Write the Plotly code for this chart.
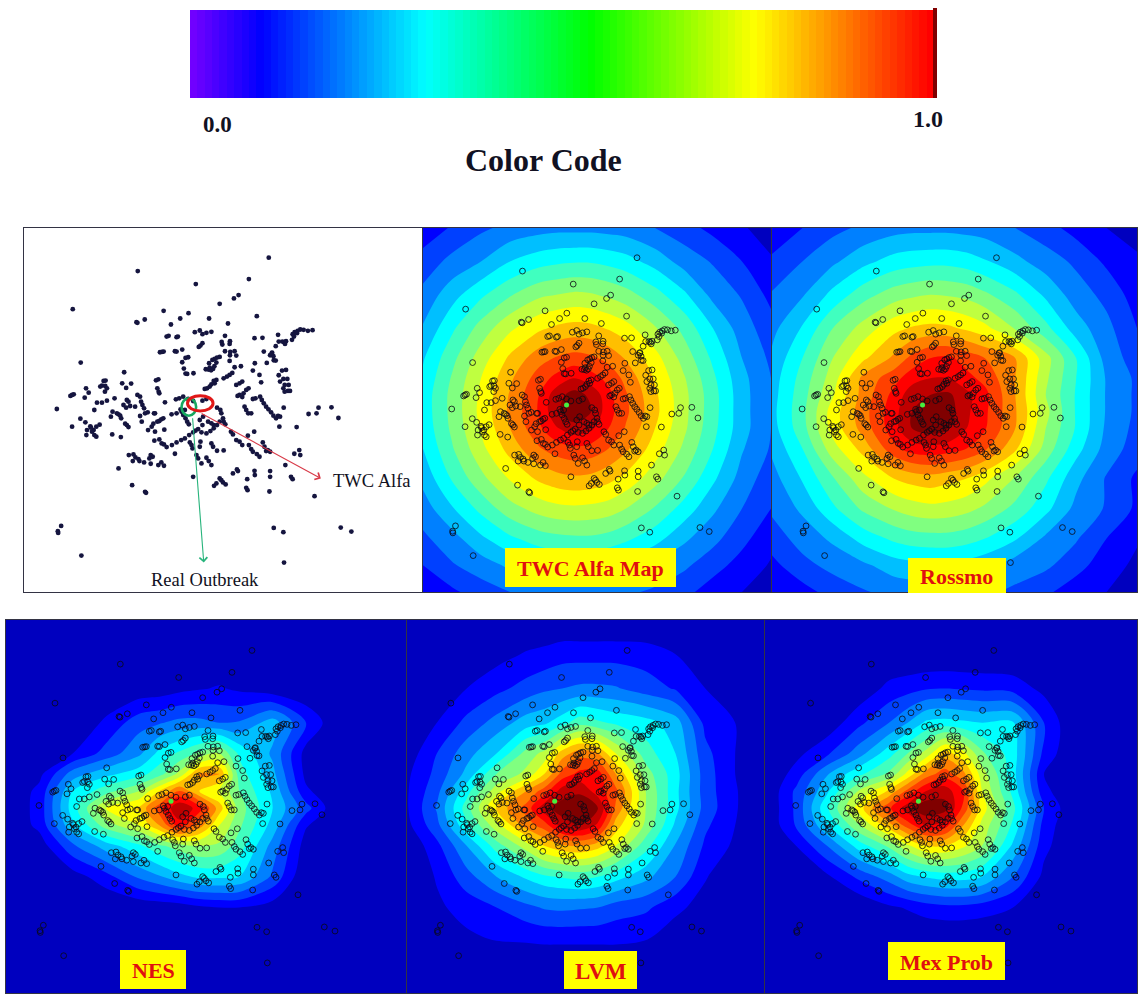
import plotly.graph_objects as go

W, H = 1140, 1000

crime_points = [
(748,99),(353,139),(688,163),(528,178),(657,211),(643,221),(600,237),(157,253),(431,258),(506,265),(481,281),(568,281),(712,274),(349,292),(352,294),(374,284),(453,299),(625,296),
(525,322),(540,317),(575,321),(560,324),(548,328),(440,335),(446,333),(470,337),(474,335),
(616,333),(705,340),(729,339),(776,330),(880,316),(866,318),(853,315),(843,314),(835,318),(826,322),(820,328),(833,325),(824,335),(818,345),(800,349),(794,352),(789,350),(797,357),(778,350),(769,364),
(606,351),(631,349),(608,359),(630,357),(548,355),(542,362),(537,366),(420,382),(426,381),(431,380),(465,379),(470,380),(487,374),(616,379),(645,379),(632,381),(631,391),(650,392),(733,380),(758,383),(752,391),(762,394),(757,385),(763,406),(769,407),
(505,397),(497,399),(487,412),(492,431),(497,446),(502,447),(521,445),
(600,396),(592,398),(585,402),(578,405),(568,415),(558,433),(566,434),(574,436),(570,428),(580,432),(584,424),(590,413),(630,408),(645,427),(664,424),(706,415),(742,414),(700,437),(720,450),(788,437),(800,435),(778,451),(792,462),(804,462),(782,470),(796,480),(808,480),(792,490),(806,498),(796,500),(812,498),(793,548),
(312,442),(181,413),(638,444),(630,450),(622,455),(612,460),(590,465),(582,468),(585,475),(575,478),(570,485),(562,490),(555,492),(415,463),(408,466),(412,490),(416,500),(418,505),(250,468),(256,467),(245,482),(240,485),(255,483),(260,490),(254,500),(197,490),(205,503),(193,518),(160,508),(150,513),(155,510),(306,475),(333,476),(318,489),
(668,470),(660,475),(650,480),(687,490),(680,495),(672,505),(660,510),(654,513),(668,516),(725,472),(708,520),(700,522),(722,515),(727,525),(733,535),(740,545),(747,553),(755,562),(762,572),(770,580),(776,573),(782,575),(780,605),(675,545),(680,555),(686,565),(695,565),
(352,510),(360,515),(363,530),(367,540),(372,550),(383,562),(375,565),(402,565),(320,525),(325,530),(310,540),(318,548),(330,543),(345,545),(283,520),(260,527),(245,533),(230,533),(222,555),(295,568),(300,572),(272,575),(277,560),(303,580),(290,565),
(435,532),(468,523),(478,520),(490,515),(505,522),(548,527),(560,522),(520,528),(470,565),(455,568),(482,553),(485,560),(490,570),(497,580),(502,590),(507,598),(495,555),(109,552),(180,581),(195,592),(210,604),(238,599),(228,605),(220,615),(212,608),(198,630),(215,620),(222,630),(228,635),(200,615),(155,605),(276,628),(302,636),
(360,573),(365,590),(320,600),(315,596),(325,606),(405,565),(430,580),(424,583),(418,588),(412,590),(400,596),(395,605),(384,615),(405,620),(433,614),(403,647),(418,643),(425,655),(432,658),(440,666),(456,660),(470,652),(484,645),(495,640),(508,630),(520,622),(527,617),
(592,548),(602,555),(605,565),(610,580),(600,590),(592,600),(582,600),(575,595),(540,585),(550,575),(565,590),(548,600),(535,612),(545,622),(560,625),(572,618),(582,610),(612,590),(617,598),(634,620),(640,628),(650,645),(660,650),(668,660),(685,632),(704,620),(832,606),
(510,652),(515,660),(518,670),(542,650),(540,665),(575,655),(580,665),(592,677),(612,676),(530,690),(535,700),(560,698),(567,708),(575,720),(545,715),(465,686),(520,755),
(688,660),(730,652),(735,665),(745,675),(752,680),(740,678),(695,672),(700,680),(720,695),(712,687),(840,675),(825,686),(843,690),
(326,690),(340,688),(346,697),(355,702),(338,708),(358,708),(372,712),(392,690),(398,695),(388,700),(392,716),(424,712),(415,720),(432,722),(295,730),(336,780),(375,800),(378,803),
(798,720),(652,733),(640,745),(705,737),(706,750),(752,738),(752,755),(815,755),(820,762),(683,762),(655,738),(600,760),(610,772),(618,778),(590,775),(583,782),(605,765),(680,788),(684,795),(750,799),(886,813),
(868,567),(898,548),(892,565),(937,547),(958,579),
(122,902),(112,918),(113,923),(183,991),(763,908),(792,921),(965,907),(997,919),(794,1012),
]
crime_x = [p[0] for p in crime_points]
crime_y = [p[1] for p in crime_points]
outbreak_x = [505]
outbreak_y = [540]

grid_x = [10,110,210,310,410,470,530,590,650,710,810,910,1010,1110,1210]
grid_y = [10,110,210,310,400,460,510,560,610,670,760,850,940,1020,1100]

z_twc = [
[1.4,2.1,2.8,3.3,3.6,3.7,3.7,3.7,3.6,3.5,3.0,2.4,1.7,1.1,0.6],
[2.4,3.3,4.0,5.0,5.6,5.8,5.9,5.9,5.7,5.4,4.6,3.6,2.9,2.0,1.1],
[3.3,4.6,5.8,6.9,7.8,8.0,8.2,8.1,7.8,7.4,6.4,5.2,3.7,2.9,1.7],
[4.1,5.8,7.4,8.8,9.8,10.2,10.4,10.3,9.9,9.4,8.1,6.7,5.0,3.5,2.4],
[4.9,6.7,8.5,10.2,11.6,12.1,12.4,12.2,11.7,10.9,9.4,7.6,5.8,4.0,2.8],
[5.2,7.1,9,10.8,12.5,13.3,14,13.4,12.7,11.7,9.9,8.1,6.2,4.3,3.0],
[5.4,7.3,9.2,11.1,13,14.6,15.4,14.8,13.3,12.1,10.2,8.3,6.4,4.4,3.0],
[5.4,7.3,9.3,11.2,13.1,14.8,15.7,15,13.4,12.2,10.3,8.3,6.4,4.4,3.0],
[5.3,7.2,9.1,11,12.8,13.9,14.6,14.2,13,11.9,10,8.2,6.3,4.4,3.0],
[5,6.9,8.7,10.4,11.9,12.5,12.8,12.6,12,11.2,9.5,7.8,6,4.1,2.9],
[4.3,6.1,7.7,9.1,10.2,10.6,10.8,10.7,10.3,9.7,8.4,6.9,5.2,3.6,2.4],
[3.5,4.9,6.3,7.6,8.4,8.7,8.8,8.7,8.5,8,6.9,5.6,4.2,3.0,2.0],
[2.8,3.6,4.8,5.8,6.5,6.7,6.8,6.8,6.6,6.2,5.4,4.2,3.3,2.3,1.3],
[2.0,2.9,3.5,4.2,4.8,5,5,5,4.8,4.5,3.8,3.2,2.4,1.6,0.9],
[1.2,1.8,2.5,3.0,3.4,3.5,3.5,3.5,3.4,3.2,2.8,2.3,1.5,1.0,0.5],
]

z_rossmo = [
[1.3,2,2.7,3.2,3.6,3.7,3.7,3.7,3.6,3.5,3,2.4,1.6,1,0.5],
[2.2,3,3.8,4.7,5.4,5.6,5.7,5.7,5.5,5.1,4.3,3.5,2.8,1.8,1.2],
[3.1,3.9,5.3,6.6,7.5,7.8,8,7.9,7.7,7.2,6.2,4.8,3.5,2.7,1.5],
[3.7,5.1,7,8.4,9.7,10.1,10.3,10.2,9.8,9.3,7.9,6.3,4.5,3.3,2],
[4.2,6,8,9.8,11.2,12.3,13,13.2,12.6,12,11,8.4,6,3.6,2.5],
[4.5,6.4,8.5,11.3,12.6,13.6,14,14,13.3,12.7,11,8.2,6,3.9,2.8],
[4.6,6.6,8.9,11.4,13.3,14.6,15,15.2,14.3,13.3,11,8,5.9,3.9,2.8],
[4.7,6.7,9.5,11.6,13.6,15,15.6,15.5,14.2,13.2,11.1,8.3,5.9,3.9,2.8],
[4.6,6.6,9.4,11.4,13.6,15,15.5,15.1,14,13.1,11,8,5.9,3.8,2.7],
[4.2,6,8.6,10.4,12.7,13.5,13.7,13.5,13,12.2,10.2,7.6,5.4,3.6,2.5],
[3.6,5.1,6.9,8.7,10,10.4,10.6,10.3,10,9.3,7.9,6.2,4.3,2.9,1.8],
[3.2,4.2,5.8,7.2,8.1,8.5,8.7,8.6,8.3,7.8,6.7,5.3,3.7,2.9,1.8],
[2.5,3.4,4.2,5.4,6.2,6.5,6.6,6.6,6.4,6,5.1,3.8,3.1,2,1.1],
[1.7,2.7,3.3,3.8,4.5,4.7,4.8,4.8,4.6,4.3,3.5,3.2,2.4,1.4,0.8],
[1.1,1.6,2.4,2.9,3.3,3.4,3.5,3.4,3.4,3.2,2.8,2.2,1.4,1,0.5],
]

z_nes = [
[0]*15,
[0]*15,
[0,0,0,0.1,0.3,0.4,0.7,0.9,1.1,0.8,0.3,0,0,0,0],
[0,0,0.1,1.2,2.6,2.9,3.3,3.3,3,3.1,4.5,2,0,0,0],
[0,0,1,2.4,3.8,5.3,6.2,7.2,8,5.8,3.8,0.6,0,0,0],
[0,0.7,3.5,4.7,5.6,6.6,8.3,11.2,11,6.5,4.3,0.7,0,0,0],
[0,1.3,5,6.6,8,10,12,10,9,7,4.8,1.2,0,0,0],
[0,1.4,5.5,9,10.2,12.6,15,13.5,10.5,7.5,5,2.4,0,0,0],
[0,1.3,4.8,7.5,9,11,13.5,11.5,9,7.2,4.6,1.1,0,0,0],
[0,0.4,2.8,4.5,5.8,6.8,7.5,8,7.8,6.5,3.6,0.5,0,0,0],
[0,0,0.5,1.6,3.2,3.9,4.7,5.2,5.2,5,2.8,0,0,0,0],
[0,0,0,0,0.2,0.3,0.4,0.8,1.0,1.0,0.5,0,0,0,0],
[0]*15,
[0]*15,
[0]*15,
]

z_lvm = [
[0]*15,
[0,0,0,0.6,1.1,1.3,1.6,1.6,1.6,1.6,1.5,1,0.2,0,0],
[0,0.2,1,1.7,2.4,2.8,3,3.2,3.2,3.1,2.5,1.9,1,0,0],
[0,1,2.3,3.4,4.5,4.8,5.6,6.6,6.2,5.8,5.4,4.5,1.7,1,0],
[0.4,2,3.6,5,7.4,8.3,10.5,11.6,11,9,6.5,5,2.3,1,0],
[0.8,2.3,4.3,7,8.3,10,12.4,13.3,13.5,11,7.5,5.4,2.5,1,0],
[0.9,2.7,5.6,8.6,11,12.5,14.5,14.8,13.5,12.3,8,5.3,2.5,1.1,0],
[0.9,3.1,6.5,10.2,12.4,14.6,15.5,15.8,15,11.8,8,5.3,2.6,1.1,0],
[0.7,2.7,5.8,8.6,11.5,12.5,14.5,15,13.8,10.5,7.8,4.8,2.2,1,0],
[0.1,1.7,4,6.5,8.5,10,10.8,11,10.4,9,6.4,3.9,1.8,0.8,0],
[0,1.1,2.6,4,5.2,5.8,6.1,6.3,6,5.4,4.3,3,1.1,0,0],
[0,0.8,1.4,2,2.7,3.1,3.2,3.1,3,2.5,2.2,1.3,0.5,0,0],
[0,0,0.8,1.1,1.2,1.3,1.3,1.3,1.3,1.3,1.1,0.3,0,0,0],
[0]*15,
[0]*15,
]

z_mex = [
[0]*15,
[0]*15,
[0,0,0,0.2,1.3,1.6,1.9,2,1.9,1.8,1.6,0.7,0,0,0],
[0,0,0.3,1.7,3,4,5.2,5.4,5.2,5,5.1,2,0,0,0],
[0,0.7,1.8,3.5,5.6,7,8.4,10.5,9.3,7.2,5.5,1.7,0,0,0],
[0,1.4,3.9,5.7,7.2,9.3,11.5,12.5,11.3,8.5,5.4,1,0,0,0],
[0,2.2,4.8,8,10.2,12.3,14,14.6,13,9,5.7,1.3,0,0,0],
[0,2.2,5.8,9.4,12.8,14.6,15.8,15.4,12.7,9.5,6.3,2,0.1,0,0],
[0,2.1,4.9,7.8,10.6,12.5,14,13.5,11,8.7,5.8,1.6,0,0,0],
[0,1,3,5.4,7.2,8.8,10,10,9.2,8,4.8,1.3,0,0,0],
[0,0,0.8,2.2,3.5,4.6,5.1,5.4,5.4,5,3,0.7,0,0,0],
[0,0,0,0,0.8,1.1,1.5,1.7,1.7,1.5,1,0,0,0,0],
[0]*15,
[0]*15,
[0]*15,
]

jet_bands = ["#0000BF","#0000FF","#0040FF","#0080FF","#00BFFF","#00FFFF","#40FFBF","#80FF80",
             "#BFFF40","#FFFF00","#FFBF00","#FF8000","#FF4000","#FF0000","#BF0000","#800000"]

strip_levels = [0.00,0.01,0.02,0.03,0.04,0.05,0.06,0.07,0.08,0.09,0.10,0.11,0.12,0.13,0.14,0.15,0.16,0.17,0.18,0.19,
                0.20,0.21,0.22,0.23,0.24,0.25,0.26,0.27,0.28,0.29,0.30,0.31,0.32,0.33,0.34,0.35,0.36,0.37,0.38,0.39,
                0.40,0.41,0.42,0.43,0.44,0.45,0.46,0.47,0.48,0.49,0.50,0.51,0.52,0.53,0.54,0.55,0.56,0.57,0.58,0.59,
                0.60,0.61,0.62,0.63,0.64,0.65,0.66,0.67,0.68,0.69,0.70,0.71,0.72,0.73,0.74,0.75,0.76,0.77,0.78,0.79,
                0.80,0.81,0.82,0.83,0.84,0.85,0.86,0.87,0.88,0.89,0.90,0.91,0.92,0.93,0.94,0.95,0.96,0.97,0.98,0.99,1.00]
strip_scale = [[0,"#7000ff"],[0.092,"#0000ff"],[0.315,"#00ffff"],[0.539,"#00ff00"],[0.762,"#ffff00"],[1,"#ff0000"]]

panel_boxes = {
    2: (24, 422, 228, 592),
    3: (423, 771, 228, 592),
    4: (772, 1137, 228, 592),
    5: (6, 406, 620, 993),
    6: (407, 765, 620, 993),
    7: (765, 1137, 620, 993),
}
heat_panels = {3: z_twc, 4: z_rossmo, 5: z_nes, 6: z_lvm, 7: z_mex}

labels = [
    ("TWC Alfa Map", 505, 676, 548, 587, 22),
    ("Rossmo", 908, 1006, 558, 593, 22),
    ("NES", 120, 186, 950, 989, 22),
    ("LVM", 564, 637, 951, 989, 23),
    ("Mex Prob", 888, 1005, 942, 980, 22),
]

SERIF = "Liberation Serif"
def fx(px): return px / W
def fy(py): return 1 - py / H

fig = go.Figure()
layout = dict(width=W, height=H, margin=dict(l=0, r=0, t=0, b=0), autosize=False,
              paper_bgcolor="white", plot_bgcolor="white", showlegend=False)

# colour strip on axes 1
layout["xaxis"] = dict(domain=[fx(190), fx(934)], range=[-0.5, len(strip_levels) - 0.5], visible=False)
layout["yaxis"] = dict(domain=[fy(98), fy(10)], range=[-0.5, 0.5], visible=False)
fig.add_trace(go.Heatmap(z=[strip_levels], colorscale=strip_scale, zmin=0, zmax=1,
                         showscale=False, hoverinfo="skip", xaxis="x", yaxis="y"))

shapes, annots = [], []
shapes.append(dict(type="rect", xref="paper", yref="paper", x0=fx(933), x1=fx(937), y0=fy(98), y1=fy(8),
                   fillcolor="#800000", line_width=0))

colorscale = []
for i, c in enumerate(jet_bands):
    colorscale += [[i / 16, c], [(i + 1) / 16, c]]

for n, (x0, x1, y0, y1) in panel_boxes.items():
    layout[f"xaxis{n}"] = dict(domain=[fx(x0), fx(x1)], range=[10, 1210], anchor=f"y{n}",
                               showgrid=False, zeroline=False, showticklabels=False, ticks="",
                               showline=True, mirror=True, linecolor="#333344", linewidth=1)
    layout[f"yaxis{n}"] = dict(domain=[fy(y1), fy(y0)], range=[1100, 10], anchor=f"x{n}",
                               showgrid=False, zeroline=False, showticklabels=False, ticks="",
                               showline=True, mirror=True, linecolor="#333344", linewidth=1)
    xa, ya = f"x{n}", f"y{n}"
    if n in heat_panels:
        fig.add_trace(go.Contour(x=grid_x, y=grid_y, z=heat_panels[n], xaxis=xa, yaxis=ya,
                                 autocontour=False, contours=dict(start=1, end=15, size=1, coloring="fill", showlines=False),
                                 line=dict(width=0, smoothing=0.9), colorscale=colorscale, zauto=False, zmin=0, zmax=16,
                                 showscale=False, hoverinfo="skip"))
        fig.add_trace(go.Scatter(x=crime_x, y=crime_y, mode="markers", xaxis=xa, yaxis=ya,
                                 marker=dict(symbol="circle-open", size=5.8, color="rgba(10,10,20,0.8)",
                                             line=dict(width=1, color="rgba(10,10,20,0.8)")), hoverinfo="skip"))
        fig.add_trace(go.Scatter(x=outbreak_x, y=outbreak_y, mode="markers", xaxis=xa, yaxis=ya,
                                 marker=dict(size=5, color="#44f040"), hoverinfo="skip"))
    else:
        fig.add_trace(go.Scatter(x=crime_x, y=crime_y, mode="markers", xaxis=xa, yaxis=ya,
                                 marker=dict(size=4.8, color="#15153f"), hoverinfo="skip"))

# rings and arrows of the first panel
shapes.append(dict(type="circle", xref="x2", yref="y2", x0=485, x1=529, y0=520, y1=572,
                   line=dict(color="#18a860", width=2.6)))
shapes.append(dict(type="circle", xref="x2", yref="y2", x0=503, x1=580, y0=512, y1=558,
                   line=dict(color="#e01818", width=3)))
annots.append(dict(x=905, y=760, ax=541, ay=563, xref="x2", yref="y2", axref="x2", ayref="y2", text="",
                   showarrow=True, arrowhead=4, arrowsize=1.4, arrowwidth=1.1, arrowcolor="#d83a48"))
annots.append(dict(x=552, y=1012, ax=518, ay=575, xref="x2", yref="y2", axref="x2", ayref="y2", text="",
                   showarrow=True, arrowhead=4, arrowsize=1.4, arrowwidth=1.1, arrowcolor="#28b47c"))

def text(t, px, py, size, bold=False, color="#111122"):
    annots.append(dict(x=fx(px), y=fy(py), xref="paper", yref="paper", showarrow=False, xanchor="center", yanchor="middle",
                       text=f"<b>{t}</b>" if bold else t, font=dict(family=SERIF, size=size, color=color)))

text("TWC Alfa", 372, 481, 18.5)
text("Real Outbreak", 205, 580, 18.5)
text("0.0", 217, 124, 23, bold=True)
text("1.0", 928, 119, 24, bold=True)
text("Color Code", 543, 160, 32, bold=True)

for t, x0, x1, y0, y1, size in labels:
    shapes.append(dict(type="rect", xref="paper", yref="paper", x0=fx(x0), x1=fx(x1), y0=fy(y1), y1=fy(y0),
                       fillcolor="#ffff00", line_width=0))
    text(t, (x0 + x1) / 2, (y0 + y1) / 2 + 1, size, bold=True, color="#e01010")

layout["shapes"] = shapes
layout["annotations"] = annots
fig.update_layout(**layout)
fig.write_html("out.html", config={"displayModeBar": False},
               post_script="document.body.style.margin='0';")
